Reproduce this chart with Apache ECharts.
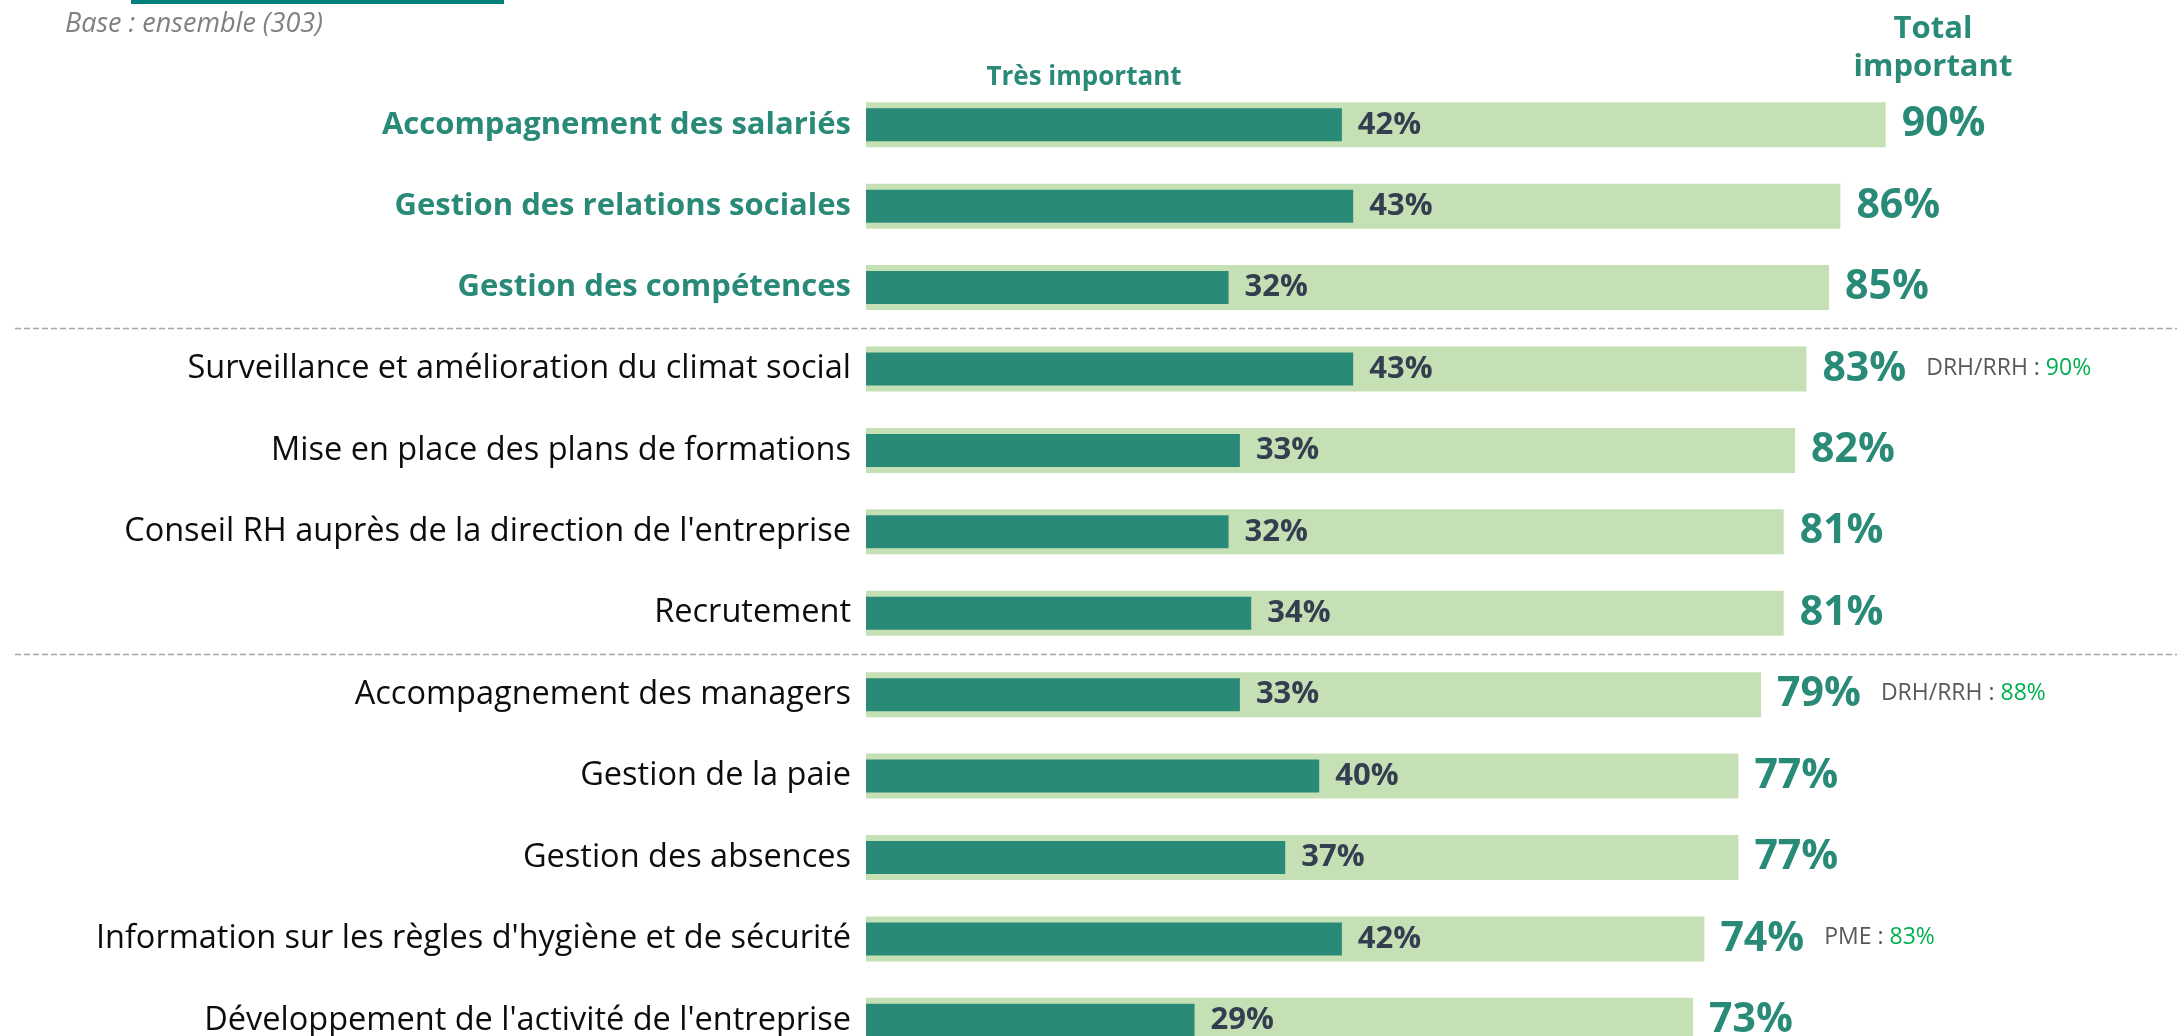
<!DOCTYPE html>
<html>
<head>
<meta charset="utf-8">
<script src="https://cdn.jsdelivr.net/npm/echarts@6/dist/echarts.min.js"></script>
<style>
    html, body { margin: 0; padding: 0; background: #ffffff; }
    #chart { width: 2177px; height: 1036px; }
</style>
</head>
<body>
<div id="chart"></div>
<script>
// missions RH, de haut en bas
var categories = [
    'Accompagnement des salariés',
    'Gestion des relations sociales',
    'Gestion des compétences',
    'Surveillance et amélioration du climat social',
    'Mise en place des plans de formations',
    "Conseil RH auprès de la direction de l'entreprise",
    'Recrutement',
    'Accompagnement des managers',
    'Gestion de la paie',
    'Gestion des absences',
    "Information sur les règles d'hygiène et de sécurité",
    "Développement de l'activité de l'entreprise"
];
var tresImportant = [42, 43, 32, 43, 33, 32, 34, 33, 40, 37, 42, 29];
var totalImportant = [90, 86, 85, 83, 82, 81, 81, 79, 77, 77, 74, 73];
// sous-cibles en marge
var noteLabels = ['', '', '', 'DRH/RRH', '', '', '', 'DRH/RRH', '', '', 'PME', ''];
var noteValues = [null, null, null, 90, null, null, null, 88, null, null, 83, null];
// nombre de missions mises en avant (en gras) et ruptures de groupe
var nbHighlight = 3;
var groupBreaks = [3, 7];

var FONT = '"Open Sans", sans-serif';
var TEAL = '#2a8a78';
var LIGHT = '#c5e0b4';

var myChart = echarts.init(document.getElementById('chart'));

var option = {
    backgroundColor: '#ffffff',
    animation: false,
    textStyle: { fontFamily: FONT },
    grid: {
        left: 866,
        top: 84,
        width: 1133,
        height: 977,
        containLabel: false,
        outerBoundsMode: 'none'
    },
    xAxis: {
        type: 'value',
        min: 0,
        max: 100,
        show: false
    },
    yAxis: [{
        type: 'category',
        inverse: true,
        data: categories,
        axisLine: { show: false },
        axisTick: { show: false },
        splitLine: { show: false },
        axisLabel: {
            margin: 15,
            formatter: function (value, index) {
                return index < nbHighlight ? '{b|' + value + '}' : '{n|' + value + '}';
            },
            rich: {
                b: { fontFamily: FONT, fontSize: 31, fontWeight: 'bold', color: TEAL },
                n: { fontFamily: FONT, fontSize: 32.5, color: '#0d0d0d' }
            }
        }
    }, {
        type: 'category',
        inverse: true,
        data: categories,
        show: false
    }],
    series: [{
        name: 'Total important',
        type: 'bar',
        yAxisIndex: 0,
        data: totalImportant,
        barWidth: 45,
        itemStyle: { color: LIGHT },
        label: {
            show: true,
            position: 'right',
            distance: 16,
            formatter: function (p) {
                var s = '{t|' + p.value + '%}';
                if (noteLabels[p.dataIndex]) {
                    s += '{g|' + noteLabels[p.dataIndex] + ' : }{v|' + noteValues[p.dataIndex] + '%}';
                }
                return s;
            },
            rich: {
                t: { fontFamily: FONT, fontSize: 41, fontWeight: 'bold', color: TEAL },
                g: { fontFamily: FONT, fontSize: 23, color: '#595959', padding: [0, 0, 2, 20] },
                v: { fontFamily: FONT, fontSize: 23, color: '#00b050', padding: [0, 0, 2, 0] }
            }
        }
    }, {
        name: 'Très important',
        type: 'bar',
        yAxisIndex: 1,
        data: tresImportant,
        barWidth: 33,
        itemStyle: { color: TEAL },
        label: {
            show: true,
            position: 'right',
            distance: 16,
            formatter: '{c}%',
            fontFamily: FONT,
            fontSize: 31,
            fontWeight: 'bold',
            color: '#333f50'
        }
    }]
};

myChart.setOption(option);

// lignes pointillées entre les groupes + en-têtes
var graphics = [];
var breakLines = groupBreaks.map(function (idx) {
    var y0 = myChart.convertToPixel({ yAxisIndex: 0 }, idx - 1);
    var y1 = myChart.convertToPixel({ yAxisIndex: 0 }, idx);
    return Math.round((y0 + y1) / 2) + 0.5;
});
breakLines.forEach(function (y) {
    graphics.push({
        type: 'line',
        shape: { x1: 15, y1: y, x2: 2177, y2: y },
        style: { stroke: '#a6a6a6', lineWidth: 1.5, lineDash: [6, 3] }
    });
});

graphics.push({
    type: 'rect',
    shape: { x: 131, y: 0, width: 373, height: 4 },
    style: { fill: '#00807a' }
});
graphics.push({
    type: 'text',
    x: 65,
    y: 24,
    style: {
        text: 'Base : ensemble (303)',
        font: 'italic 27px ' + FONT,
        fill: '#808080',
        verticalAlign: 'middle'
    }
});
graphics.push({
    type: 'text',
    x: 1084,
    y: 78,
    style: {
        text: 'Très important',
        font: 'bold 26px ' + FONT,
        fill: TEAL,
        align: 'center',
        verticalAlign: 'middle'
    }
});
graphics.push({
    type: 'text',
    x: 1933,
    y: 48,
    style: {
        text: 'Total\nimportant',
        font: 'bold 31px ' + FONT,
        lineHeight: 38,
        fill: TEAL,
        align: 'center',
        verticalAlign: 'middle'
    }
});

myChart.setOption({ graphic: graphics });
</script>
</body>
</html>
